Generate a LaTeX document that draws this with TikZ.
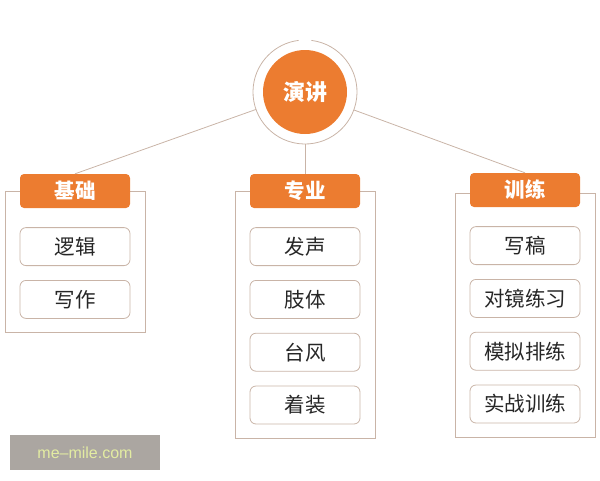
\documentclass[tikz,border=0pt]{standalone}
\usepackage{fontspec}
\newfontfamily\cjk{Noto Sans CJK SC}
\setsansfont{Liberation Sans}
\usetikzlibrary{positioning}
\usetikzlibrary{backgrounds}
\definecolor{orng}{HTML}{EC7C30}
\definecolor{edge}{HTML}{C9B4A7}
\definecolor{mark}{HTML}{ABA6A1}
\definecolor{marktext}{HTML}{E3ECA2}

\begin{document}
\begin{tikzpicture}[x=1pt,y=-1pt,node distance=14pt,
  head/.style={fill=orng,text=white,rounded corners=4pt,minimum width=110pt,minimum height=34pt,inner sep=0pt,font=\cjk\bfseries\fontsize{20.5}{20.5}\selectfont},
  item/.style={draw=edge,line width=0.8pt,rounded corners=6pt,minimum width=110pt,minimum height=38pt,inner sep=0pt,text=black!85,font=\cjk\fontsize{20.5}{20.5}\selectfont},
  panel/.style={draw=edge,line width=0.8pt},
  conn/.style={draw=edge,line width=0.8pt}]
\useasboundingbox (0,0) rectangle (600,480);
  % centre
  \node[circle,fill=orng,minimum size=84pt,inner sep=0pt,text=white,font=\cjk\bfseries\fontsize{22}{22}\selectfont] (c) at (305,92) {演讲};
  \node[circle,minimum size=104pt,inner sep=0pt,outer sep=0pt] (ring) at (305,92) {};
  \draw[conn] (c.center) ++(277:52) arc[start angle=277,end angle=623,radius=52];
  % headers
  \node[head] (h1) at (75,191) {基础};
  \node[head] (h2) at (305,191) {专业};
  \node[head] (h3) at (525,190) {训练};
  % items
  \node[item,below=19pt of h1] (a1) {逻辑};
  \node[item,below=of a1] (a2) {写作};
  \node[item,below=19pt of h2] (b1) {发声};
  \node[item,below=of b1] (b2) {肢体};
  \node[item,below=of b2] (b3) {台风};
  \node[item,below=of b3] (b4) {着装};
  \node[item,below=19pt of h3] (d1) {写稿};
  \node[item,below=of d1] (d2) {对镜练习};
  \node[item,below=of d2] (d3) {模拟排练};
  \node[item,below=of d3] (d4) {实战训练};
  \begin{scope}[on background layer]
  \draw[panel] ([xshift=-70pt]h1.center) rectangle ([xshift=70pt,yshift=-14pt]a2.south);
  \draw[panel] ([xshift=-70pt]h2.center) rectangle ([xshift=70pt,yshift=-14pt]b4.south);
  \draw[panel] ([xshift=-70pt,yshift=-3pt]h3.center) rectangle ([xshift=70pt,yshift=-14pt]d4.south);
  \end{scope}
  \draw[conn] (ring) -- (h1.north);
  \draw[conn] (ring) -- (h2.north);
  \draw[conn] (ring) -- (h3.north);
  % watermark
  \node[fill=mark,text=marktext,minimum width=150pt,minimum height=35pt,font=\sffamily\fontsize{16}{16}\selectfont] (wm) at (85,452.5) {me–mile.com};
\end{tikzpicture}
\end{document}
